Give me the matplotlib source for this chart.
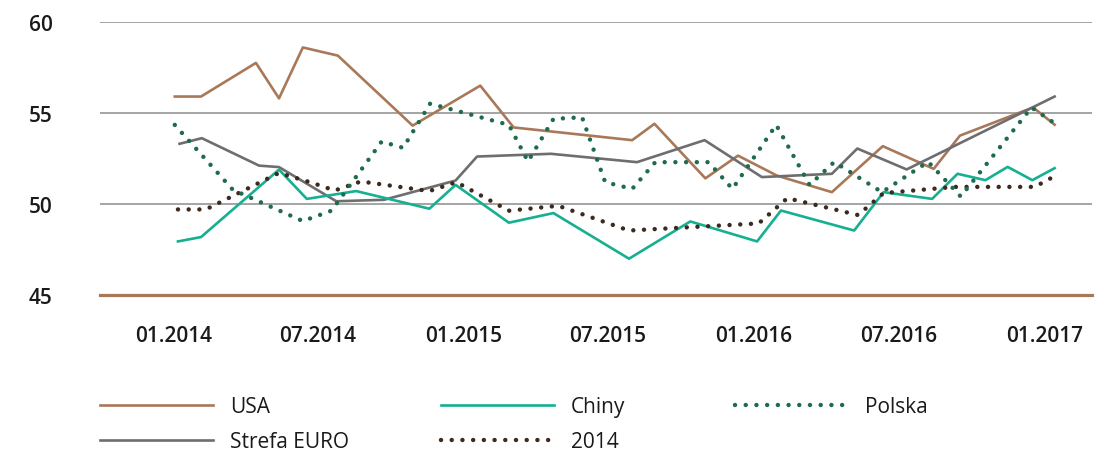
import pandas as pd
import matplotlib
matplotlib.use("Agg")
import matplotlib.pyplot as plt
import matplotlib.dates as mdates

plt.rcParams['font.family'] = ['Open Sans', 'DejaVu Sans']

# series (dates, values)
usa_dates = ['2014-01-03', '2014-02-05', '2014-04-15', '2014-05-14', '2014-06-13', '2014-07-27',
             '2014-10-29', '2015-01-22', '2015-03-05', '2015-08-01', '2015-08-29', '2015-11-01',
             '2015-12-12', '2016-01-30', '2016-04-08', '2016-06-11', '2016-08-14', '2016-09-16',
             '2016-12-17', '2017-01-13']
usa_vals = [55.9, 55.9, 57.75, 55.8, 58.6, 58.15,
            54.3, 56.5, 54.2, 53.5, 54.4, 51.4,
            52.65, 51.55, 50.64, 53.17, 51.92, 53.75,
            55.3, 54.35]

chiny_dates = ['2014-01-07', '2014-02-05', '2014-05-14', '2014-06-18', '2014-08-19', '2014-11-19',
               '2014-12-22', '2015-02-27', '2015-04-24', '2015-07-28', '2015-10-13', '2016-01-05',
               '2016-02-04', '2016-05-06', '2016-06-12', '2016-08-12', '2016-09-13', '2016-10-18',
               '2016-11-15', '2016-12-16', '2017-01-13']
chiny_vals = [47.93, 48.17, 51.88, 50.27, 50.70, 49.73,
              51.04, 48.96, 49.49, 46.98, 49.03, 47.93,
              49.63, 48.53, 50.64, 50.27, 51.65, 51.3,
              52.03, 51.3, 51.96]

polska_dates = ['2014-01-03', '2014-03-17', '2014-06-13', '2014-07-19', '2014-09-20', '2014-10-17',
                '2014-11-20', '2015-02-27', '2015-03-23', '2015-04-24', '2015-05-30', '2015-06-28',
                '2015-08-01', '2015-08-30', '2015-11-05', '2015-12-05', '2016-01-29', '2016-03-11',
                '2016-04-11', '2016-06-10', '2016-08-07', '2016-09-17', '2016-12-15', '2017-01-13']
polska_vals = [54.34, 50.77, 49.05, 49.62, 53.42, 53.08,
               55.51, 54.34, 52.33, 54.67, 54.76, 51.19,
               50.82, 52.29, 52.29, 50.82, 54.34, 51.04,
               52.3, 50.64, 52.31, 50.4, 55.3, 54.43]

euro_dates = ['2014-01-09', '2014-02-06', '2014-04-19', '2014-05-14', '2014-07-25', '2014-09-23',
              '2014-12-22', '2015-01-18', '2015-04-21', '2015-08-07', '2015-10-31', '2016-01-11',
              '2016-04-08', '2016-05-10', '2016-07-11', '2017-01-13']
euro_vals = [53.30, 53.61, 52.10, 52.02, 50.14, 50.22,
             51.28, 52.6, 52.75, 52.29, 53.5, 51.47,
             51.65, 53.04, 51.89, 55.90]

y2014_dates = ['2014-01-07', '2014-02-11', '2014-05-14', '2014-06-25', '2014-07-23', '2014-08-25',
               '2014-11-19', '2014-12-23', '2015-02-27', '2015-04-30', '2015-07-28', '2016-01-07',
               '2016-02-12', '2016-05-11', '2016-06-12', '2016-09-10', '2016-12-19', '2017-01-13']
y2014_vals = [49.69, 49.69, 51.70, 51.15, 50.73, 51.23,
              50.70, 51.19, 49.62, 49.89, 48.53, 48.92,
              50.31, 49.38, 50.59, 50.93, 50.93, 51.52]

tick_dates = ['2014-01-01', '2014-07-01', '2015-01-01', '2015-07-01',
              '2016-01-01', '2016-07-01', '2017-01-01']
y_ticks = [45, 50, 55, 60]

c_usa = '#a87858'
c_chiny = '#14b08f'
c_polska = '#1f6b4e'
c_euro = '#6e6e71'
c_2014 = '#3d2a1e'
dots = (0, (0.01, 2.4))

fig = plt.figure(figsize=(11.04, 4.52), dpi=100)
ax = fig.add_axes([100 / 1104, 156.3 / 452, 992 / 1104, 272.7 / 452])

ax.plot(pd.to_datetime(usa_dates), usa_vals, color=c_usa, lw=1.9, label='USA')
ax.plot(pd.to_datetime(euro_dates), euro_vals, color=c_euro, lw=1.9, label='Strefa EURO')
ax.plot(pd.to_datetime(chiny_dates), chiny_vals, color=c_chiny, lw=1.9, label='Chiny')
ax.plot(pd.to_datetime(y2014_dates), y2014_vals, color=c_2014, lw=3.2,
        linestyle=dots, dash_capstyle='round', label='2014')
ax.plot(pd.to_datetime(polska_dates), polska_vals, color=c_polska, lw=3.2,
        linestyle=dots, dash_capstyle='round', label='Polska')

ax.set_ylim(45, 60)
ax.set_xlim(pd.Timestamp('2013-10-01'), pd.Timestamp('2017-03-01'))
ax.set_yticks(y_ticks)
ax.set_xticks(pd.to_datetime(tick_dates))
ax.xaxis.set_major_formatter(mdates.DateFormatter('%m.%Y'))

ax.grid(axis='y', color='#8c8c8c', lw=1.1)
ax.set_axisbelow(True)
for s in ['top', 'right', 'left']:
    ax.spines[s].set_visible(False)
ax.spines['bottom'].set_color(c_usa)
ax.spines['bottom'].set_linewidth(2.3)
ax.spines['bottom'].set_zorder(3)

ax.tick_params(axis='y', length=0, pad=34, labelsize=15, labelcolor='#1a1a1a')
ax.tick_params(axis='x', length=0, pad=22, labelsize=15, labelcolor='#1a1a1a')
for lab in ax.get_xticklabels() + ax.get_yticklabels():
    lab.set_fontweight('semibold')

# legend in three columns like the original
h = {l.get_label(): l for l in ax.get_lines()}
cols = [(['USA', 'Strefa EURO'], 100), (['Chiny', '2014'], 441), (['Polska'], 735)]
for names, x0 in cols:
    fig.legend([h[n] for n in names], names, loc='upper left',
               bbox_to_anchor=(x0 / 1104, 1 - 397 / 452), frameon=False,
               fontsize=15, handlelength=5.4, handletextpad=0.85,
               borderpad=0, borderaxespad=0, labelspacing=0.68,
               labelcolor='#1a1a1a')

fig.savefig('out.png', dpi=100)
